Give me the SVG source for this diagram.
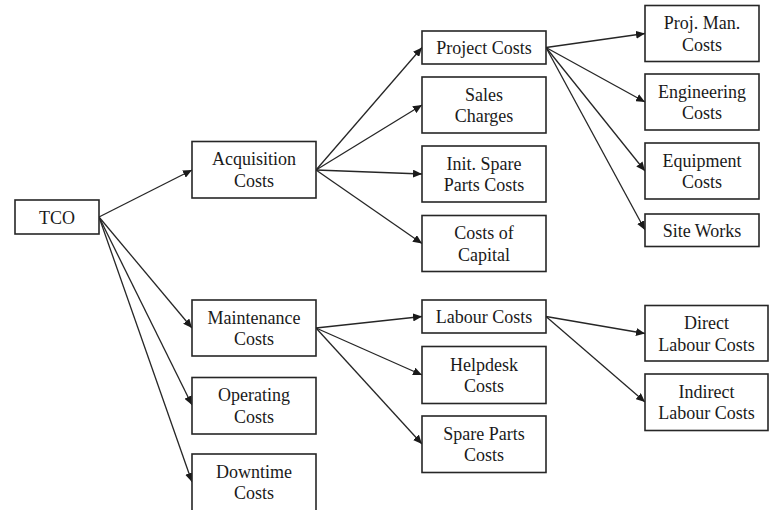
<svg xmlns="http://www.w3.org/2000/svg" width="769" height="510" viewBox="0 0 769 510">
<style>
.box{fill:#fff;stroke:#262626;stroke-width:1.6}
.t{font-family:"Liberation Serif","Times New Roman",serif;font-size:18px;fill:#1a1a1a;text-anchor:middle}
.c{stroke:#262626;stroke-width:1.3;fill:none;marker-end:url(#ah)}
</style>
<defs>
<marker id="ah" markerUnits="userSpaceOnUse" markerWidth="10" markerHeight="8" refX="9" refY="4" orient="auto">
<path d="M0,0 L9,4 L0,8 Z" fill="#1a1a1a"/>
</marker>
</defs>
<rect width="769" height="510" fill="#fff"/>
<g id="connectors">
<line class="c" x1="99" y1="217" x2="192" y2="170"/>
<line class="c" x1="99" y1="217" x2="192" y2="328"/>
<line class="c" x1="99" y1="217" x2="192" y2="405"/>
<line class="c" x1="99" y1="217" x2="192" y2="482"/>
<line class="c" x1="316" y1="170" x2="422" y2="47.5"/>
<line class="c" x1="316" y1="170" x2="422" y2="105"/>
<line class="c" x1="316" y1="170" x2="422" y2="174"/>
<line class="c" x1="316" y1="170" x2="422" y2="243.5"/>
<line class="c" x1="546" y1="47.5" x2="645" y2="33.5"/>
<line class="c" x1="546" y1="47.5" x2="645" y2="102"/>
<line class="c" x1="546" y1="47.5" x2="645" y2="171"/>
<line class="c" x1="546" y1="47.5" x2="645" y2="230"/>
<line class="c" x1="316" y1="328" x2="422" y2="316.5"/>
<line class="c" x1="316" y1="328" x2="422" y2="375"/>
<line class="c" x1="316" y1="328" x2="422" y2="444"/>
<line class="c" x1="546" y1="316.5" x2="645" y2="333.5"/>
<line class="c" x1="546" y1="316.5" x2="645" y2="402"/>
</g>
<g id="tco"><rect class="box" x="15" y="200" width="84" height="34"/><text class="t" x="57" y="223.5">TCO</text></g>
<g id="acquisition"><rect class="box" x="192" y="141.5" width="124" height="56.5"/><text class="t" x="254" y="165">Acquisition</text><text class="t" x="254" y="186.5">Costs</text></g>
<g id="maintenance"><rect class="box" x="192" y="300" width="124" height="56"/><text class="t" x="254" y="323.5">Maintenance</text><text class="t" x="254" y="345">Costs</text></g>
<g id="operating"><rect class="box" x="192" y="377.5" width="124" height="56.5"/><text class="t" x="254" y="401">Operating</text><text class="t" x="254" y="422.5">Costs</text></g>
<g id="downtime"><rect class="box" x="192" y="454" width="124" height="57"/><text class="t" x="254" y="477.5">Downtime</text><text class="t" x="254" y="499">Costs</text></g>
<g id="project"><rect class="box" x="422" y="31" width="124" height="33"/><text class="t" x="484" y="54">Project Costs</text></g>
<g id="sales"><rect class="box" x="422" y="77" width="124" height="56"/><text class="t" x="484" y="100.5">Sales</text><text class="t" x="484" y="122">Charges</text></g>
<g id="initspare"><rect class="box" x="422" y="146" width="124" height="56"/><text class="t" x="484" y="169.5">Init. Spare</text><text class="t" x="484" y="191">Parts Costs</text></g>
<g id="capital"><rect class="box" x="422" y="215.5" width="124" height="56"/><text class="t" x="484" y="239">Costs of</text><text class="t" x="484" y="260.5">Capital</text></g>
<g id="labour"><rect class="box" x="422" y="300" width="124" height="33"/><text class="t" x="484" y="323">Labour Costs</text></g>
<g id="helpdesk"><rect class="box" x="422" y="346.5" width="124" height="57"/><text class="t" x="484" y="370.5">Helpdesk</text><text class="t" x="484" y="392">Costs</text></g>
<g id="spareparts"><rect class="box" x="422" y="416" width="124" height="56.5"/><text class="t" x="484" y="439.5">Spare Parts</text><text class="t" x="484" y="461">Costs</text></g>
<g id="projman"><rect class="box" x="645" y="5.5" width="114" height="56"/><text class="t" x="702" y="29">Proj. Man.</text><text class="t" x="702" y="50.5">Costs</text></g>
<g id="engineering"><rect class="box" x="645" y="74" width="114" height="56"/><text class="t" x="702" y="97.5">Engineering</text><text class="t" x="702" y="119">Costs</text></g>
<g id="equipment"><rect class="box" x="645" y="143" width="114" height="56"/><text class="t" x="702" y="166.5">Equipment</text><text class="t" x="702" y="188">Costs</text></g>
<g id="siteworks"><rect class="box" x="645" y="214" width="114" height="32.5"/><text class="t" x="702" y="236.5">Site Works</text></g>
<g id="direct"><rect class="box" x="645" y="305.5" width="123" height="55.5"/><text class="t" x="706.5" y="329">Direct</text><text class="t" x="706.5" y="350.5">Labour Costs</text></g>
<g id="indirect"><rect class="box" x="645" y="374" width="123" height="56.5"/><text class="t" x="706.5" y="397.5">Indirect</text><text class="t" x="706.5" y="419">Labour Costs</text></g>
</svg>
